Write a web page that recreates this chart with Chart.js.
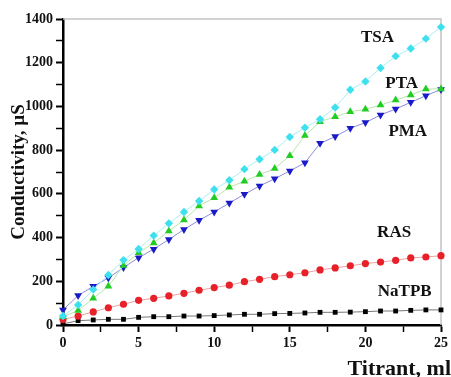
<!DOCTYPE html>
<html>
<head>
<meta charset="utf-8">
<script src="https://cdn.jsdelivr.net/npm/chart.js@4"></script>
<style>
  html, body { margin: 0; padding: 0; background: #fff; }
  #wrap { width: 451px; height: 377px; }
</style>
</head>
<body>
<div id="wrap"><canvas id="grafico"></canvas></div>
<script>
// Datos
const titrant = [0, 1, 2, 3, 4, 5, 6, 7, 8, 9, 10, 11, 12, 13, 14, 15, 16, 17, 18, 19, 20, 21, 22, 23, 24, 25];
const tsa   = [41, 92, 162, 229, 297, 348, 409, 465, 517, 567, 620, 662, 713, 758, 801, 860, 903, 941, 995, 1076, 1114, 1176, 1230, 1265, 1310, 1363];
const pta   = [38, 66, 122, 177, 272, 330, 375, 430, 480, 545, 582, 630, 658, 688, 716, 774, 867, 930, 953, 976, 987, 1006, 1029, 1052, 1080, 1080];
const pma   = [69, 135, 177, 215, 263, 308, 347, 391, 437, 479, 517, 558, 598, 636, 669, 705, 742, 831, 862, 900, 926, 961, 988, 1019, 1049, 1078];
const ras   = [25, 41, 60, 79, 95, 113, 122, 133, 145, 159, 171, 182, 198, 209, 221, 230, 239, 252, 261, 271, 281, 288, 296, 307, 311, 317];
const natpb = [5, 20, 23, 26, 26, 35, 38, 38, 41, 41, 43, 46, 49, 49, 52, 53, 55, 58, 58, 59, 61, 64, 64, 67, 69, 69];

const xTicks = [0, 5, 10, 15, 20, 25];
const yTicks = [0, 200, 400, 600, 800, 1000, 1200, 1400];

// Etiquetas de las curvas (en unidades de los datos)
const curveNames = ["TSA", "PTA", "PMA", "RAS", "NaTPB"];
const curveX = [20.8, 22.4, 22.8, 21.9, 22.6];
const curveY = [1313, 1103, 883, 421, 151];

const serif = '"Liberation Serif", "Times New Roman", serif';

function puntos(valores) {
    return titrant.map((t, i) => ({ x: t, y: valores[i] }));
}

function serie(label, valores, color, linea, estilo, radio, rot) {
    return {
        label: label,
        data: puntos(valores),
        borderColor: linea,
        borderWidth: 1,
        backgroundColor: color,
        pointBackgroundColor: color,
        pointBorderColor: color,
        pointBorderWidth: 0,
        pointStyle: estilo,
        pointRadius: radio,
        pointRotation: rot || 0,
        tension: 0,
        clip: false,
    };
}

const marco = {
    id: "marco",
    beforeDatasetsDraw(chart) {
        const { ctx, chartArea: a } = chart;
        ctx.save();
        ctx.strokeStyle = "#c4c4c4";
        ctx.lineWidth = 1.5;
        ctx.beginPath();
        ctx.moveTo(a.left, a.top);
        ctx.lineTo(a.right, a.top);
        ctx.lineTo(a.right, a.bottom);
        ctx.stroke();
        ctx.restore();
    },
    afterDraw(chart) {
        const { ctx, scales } = chart;
        ctx.save();
        ctx.fillStyle = "#111";
        ctx.font = "bold 17px " + serif;
        ctx.textAlign = "center";
        ctx.textBaseline = "middle";
        curveNames.forEach((n, i) => {
            ctx.fillText(n, scales.x.getPixelForValue(curveX[i]), scales.y.getPixelForValue(curveY[i]));
        });
        ctx.font = "bold 22px " + serif;
        ctx.textAlign = "right";
        ctx.textBaseline = "alphabetic";
        ctx.fillText("Titrant, ml", chart.width, chart.height - 2);
        ctx.restore();
    },
};

const ctx = document.getElementById("grafico");

new Chart(ctx, {
    type: "line",
    data: {
        datasets: [
            serie("TSA", tsa, "#3fe0ee", "#a8eef5", "rectRot", 4.2),
            serie("PTA", pta, "#22cc22", "#b5e6a8", "triangle", 4.5),
            serie("PMA", pma, "#1a1ac8", "#8c8ce0", "triangle", 4.5, 180),
            serie("RAS", ras, "#e8202a", "#f0a0a0", "circle", 3.6),
            serie("NaTPB", natpb, "#000000", "#777777", "rect", 3.4),
        ],
    },
    options: {
        responsive: true,
        maintainAspectRatio: false,
        animation: false,
        devicePixelRatio: 1,
        layout: { padding: { top: 19, right: 10, left: 0, bottom: 0 } },
        plugins: {
            legend: { display: false },
            tooltip: { enabled: false },
        },
        scales: {
            x: {
                type: "linear",
                min: 0,
                max: 25,
                afterFit: (s) => { s.height = 52; },
                border: { color: "#000", width: 2.5 },
                grid: {
                    drawOnChartArea: false,
                    color: "#000",
                    tickColor: "#000",
                    tickLength: 7,
                    tickWidth: (c) => (xTicks.includes(c.tick.value) ? 2 : 1.5),
                },
                ticks: {
                    stepSize: 2.5,
                    autoSkip: false,
                    maxRotation: 0,
                    padding: 3,
                    color: "#111",
                    font: { family: serif, size: 14, weight: "bold" },
                    callback: (v) => (xTicks.includes(v) ? String(v) : ""),
                },
            },
            y: {
                min: 0,
                max: 1400,
                afterFit: (s) => { s.width = 63; },
                border: { color: "#000", width: 2.5 },
                grid: {
                    drawOnChartArea: false,
                    color: "#000",
                    tickColor: "#000",
                    tickLength: 7,
                    tickWidth: (c) => (yTicks.includes(c.tick.value) ? 2 : 1.5),
                },
                ticks: {
                    stepSize: 100,
                    autoSkip: false,
                    padding: 3,
                    color: "#111",
                    font: { family: serif, size: 14, weight: "bold" },
                    callback: (v) => (yTicks.includes(v) ? String(v) : ""),
                },
                title: {
                    display: true,
                    text: "Conductivity, µS",
                    color: "#111",
                    font: { family: serif, size: 19, weight: "bold" },
                    padding: { top: 8, bottom: 0 },
                },
            },
        },
    },
    plugins: [marco],
});
</script>
</body>
</html>
